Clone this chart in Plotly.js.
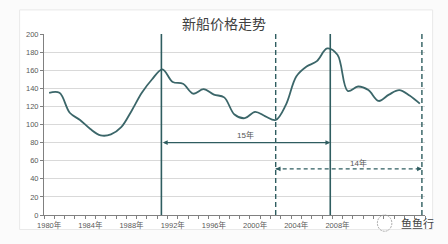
<!DOCTYPE html>
<html>
<head>
<meta charset="utf-8">
<script src="https://cdn.plot.ly/plotly-3.0.1.min.js"></script>
<style>
html,body{margin:0;padding:0;background:#fbfbfb;}
#chart{width:448px;height:244px;}
</style>
</head>
<body>
<div id="chart"></div>
<script>
// ---- data ----
const years = [1980,1981,1982,1983,1984,1985,1986,1987,1988,1989,1990,1991,1992,1993,1994,1995,1996,1997,1998,1999,2000,2001,2002,2003,2004,2005,2006,2007,2008,2009,2010,2011,2012,2013,2014,2015,2016];
const prices = [135,135,113,105,95,88,89,97,115,135,150,161,147,145,134,139,133,130,111,107,114,109,105,122,153,164,170,184,177,137,142,138,126,133,138,132,123];
const tickYears = [1980,1984,1988,1992,1996,2000,2004,2008];
const tickLabels = ['1980年','1984年','1988年','1992年','1996年','2000年','2004年','2008年'];
const solidLineYears = [1990.9, 2007.3];
const dashedLineYears = [2002, 2016.2];
const cycleLabels = ['15年','14年'];
const cycleLevels = [80, 51];
const chartTitle = '新船价格走势';
const watermark = '鱼鱼行';

const teal = '#2f5d60';
const font = '"Liberation Sans", "Noto Sans CJK SC", sans-serif';

const shapes = [];
// card background
shapes.push({type:'rect', xref:'paper', yref:'paper', x0:-0.064, x1:1.02, y0:-0.08, y1:1.133,
  fillcolor:'#ffffff', line:{color:'#e9e9e9', width:1}, layer:'below'});
solidLineYears.forEach(y => shapes.push({type:'line', xref:'x', yref:'paper', x0:y, x1:y, y0:0, y1:1,
  line:{color:teal, width:1.6}}));
dashedLineYears.forEach(y => shapes.push({type:'line', xref:'x', yref:'paper', x0:y, x1:y, y0:0, y1:1,
  line:{color:teal, width:1.4, dash:'5px,3px'}}));
// dashed span line (14 years)
shapes.push({type:'line', xref:'x', yref:'y', x0:dashedLineYears[0], x1:dashedLineYears[1], y0:cycleLevels[1], y1:cycleLevels[1],
  line:{color:teal, width:1.2, dash:'4px,3px'}});

const annotations = [];
// solid double arrow (15 years)
annotations.push({xref:'x', yref:'y', axref:'x', ayref:'y', x:solidLineYears[1], y:cycleLevels[0],
  ax:solidLineYears[0], ay:cycleLevels[0], text:'', showarrow:true, arrowside:'end+start',
  arrowhead:2, arrowsize:0.8, arrowwidth:1.2, arrowcolor:teal});
// arrowheads for dashed span
annotations.push({xref:'x', yref:'y', axref:'x', ayref:'y', x:dashedLineYears[0], y:cycleLevels[1],
  ax:dashedLineYears[0]+0.6, ay:cycleLevels[1], text:'', showarrow:true, arrowhead:2, arrowsize:0.8, arrowwidth:1.2, arrowcolor:teal});
annotations.push({xref:'x', yref:'y', axref:'x', ayref:'y', x:dashedLineYears[1], y:cycleLevels[1],
  ax:dashedLineYears[1]-0.6, ay:cycleLevels[1], text:'', showarrow:true, arrowhead:2, arrowsize:0.8, arrowwidth:1.2, arrowcolor:teal});
annotations.push({xref:'x', yref:'y', x:1999.1, y:88.5, text:cycleLabels[0], showarrow:false,
  font:{family:font, size:8, color:'#555'}});
annotations.push({xref:'x', yref:'y', x:2010, y:58, text:cycleLabels[1], showarrow:false,
  font:{family:font, size:8, color:'#555'}});
// watermark
annotations.push({xref:'paper', yref:'paper', x:1.03, y:-0.045, xanchor:'right', yanchor:'middle',
  text:watermark, showarrow:false, font:{family:'"Noto Sans CJK SC", sans-serif', size:11, color:'#444'}});
shapes.push({type:'circle', xref:'paper', yref:'paper', x0:0.875, x1:0.913, y0:-0.09, y1:0.0,
  line:{color:'#aaa', width:1, dash:'2px,1px'}});

const minorVals = years.map(y => y - 0.5).concat([years[years.length-1] + 0.5]);

const data = [{
  x: years, y: prices, type:'scatter', mode:'lines',
  line:{color:'#3b6669', width:1.8, shape:'spline', smoothing:1},
  hoverinfo:'skip'
}];

const layout = {
  width:448, height:244,
  margin:{l:44, r:23, t:34, b:29, pad:0},
  paper_bgcolor:'#fbfbfb', plot_bgcolor:'rgba(0,0,0,0)',
  showlegend:false,
  title:{text:chartTitle, x:0.5, xanchor:'center', y:0.902, yanchor:'middle', yref:'container',
    font:{family:'"Noto Sans CJK SC", sans-serif', size:14, color:'#404040'}},
  xaxis:{range:[1979.5, 2016.5], tickmode:'array', tickvals:tickYears, ticktext:tickLabels,
    ticks:'outside', ticklen:3, tickcolor:'rgba(0,0,0,0)', showgrid:false, zeroline:false,
    showline:true, linecolor:'#808080', linewidth:1,
    tickfont:{family:font, size:7.5, color:'#595959'},
    minor:{tickmode:'array', tickvals:minorVals, ticks:'outside', ticklen:3, tickcolor:'#808080', tickwidth:1, showgrid:false},
    fixedrange:true},
  yaxis:{range:[0,200], tickmode:'linear', tick0:0, dtick:20, ticks:'outside', ticklen:3, tickcolor:'#808080',
    showgrid:true, gridcolor:'#d9d9d9', gridwidth:1, zeroline:false,
    showline:true, linecolor:'#808080', linewidth:1,
    tickfont:{family:font, size:7.5, color:'#595959'}, fixedrange:true},
  shapes: shapes,
  annotations: annotations
};

Plotly.newPlot('chart', data, layout, {displayModeBar:false, staticPlot:true});
</script>
</body>
</html>
